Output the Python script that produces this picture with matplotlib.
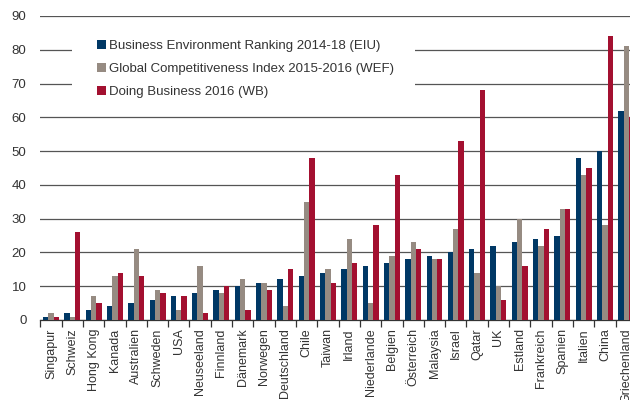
import numpy as np
import matplotlib
matplotlib.use('Agg')
import matplotlib.pyplot as plt
from matplotlib.patches import Rectangle

plt.rcParams['font.family'] = ['Liberation Sans', 'DejaVu Sans']

countries = ['Singapur', 'Schweiz', 'Hong Kong', 'Kanada', 'Australien', 'Schweden',
             'USA', 'Neuseeland', 'Finnland', 'Dänemark', 'Norwegen', 'Deutschland',
             'Chile', 'Taiwan', 'Irland', 'Niederlande', 'Belgien', 'Österreich',
             'Malaysia', 'Israel', 'Qatar', 'UK', 'Estland', 'Frankreich', 'Spanien',
             'Italien', 'China', 'Griechenland']

eiu = [1, 2, 3, 4, 5, 6, 7, 8, 9, 10, 11, 12, 13, 14, 15, 16, 17, 18, 19, 20,
       21, 22, 23, 24, 25, 48, 50, 62]
wef = [2, 1, 7, 13, 21, 9, 3, 16, 8, 12, 11, 4, 35, 15, 24, 5, 19, 23, 18, 27,
       14, 10, 30, 22, 33, 43, 28, 81]
wb = [1, 26, 5, 14, 13, 8, 7, 2, 10, 3, 9, 15, 48, 11, 17, 28, 43, 21, 18, 53,
      68, 6, 16, 27, 33, 45, 84, 60]

labels = ['Business Environment Ranking 2014-18 (EIU)',
          'Global Competitiveness Index 2015-2016 (WEF)',
          'Doing Business 2016 (WB)']
colors = ['#003865', '#968b82', '#a31030']

fig = plt.figure(figsize=(6.3, 4.0), dpi=100)
ax = fig.add_axes([0.064, 0.2, 0.947, 0.76])
ax.set_axisbelow(True)

x = np.arange(len(countries))
w = 0.25
for i, (vals, lab, col) in enumerate(zip([eiu, wef, wb], labels, colors)):
    ax.bar(x + (i - 1) * w, vals, w, color=col, label=lab, zorder=3)

ax.set_xlim(-0.5, len(countries) - 0.5)
ax.set_ylim(0, 90)
ax.set_yticks(range(0, 91, 10))
ax.yaxis.grid(True, color='#555555', linewidth=0.9)
ax.tick_params(axis='y', length=0, labelsize=9.5, labelcolor='#333333', pad=10)

ax.set_xticks(x)
ax.set_xticklabels(countries, rotation=90, fontsize=9, color='#333333')
ax.set_xticks(np.arange(-0.5, len(countries), 1), minor=True)
ax.tick_params(axis='x', which='major', length=0, pad=6)
ax.tick_params(axis='x', which='minor', length=5, width=0.9, color='#333333', direction='out')

for s in ['top', 'right', 'left']:
    ax.spines[s].set_visible(False)
ax.spines['bottom'].set_color('#333333')
ax.spines['bottom'].set_linewidth(0.9)

# white box behind legend hides the gridlines
ax.add_patch(Rectangle((72 / 630, 1 - 108 / 400), (415 - 72) / 630, 80 / 400,
                       transform=fig.transFigure, facecolor='white',
                       edgecolor='none', zorder=1))

leg = ax.legend(loc='upper left', bbox_to_anchor=(97 / 630, 1 - 40 / 400),
                bbox_transform=fig.transFigure, frameon=False, fontsize=9.5,
                handlelength=0.68, handleheight=0.68, handletextpad=0.2,
                labelspacing=0.83, borderpad=0, borderaxespad=0)
for t in leg.get_texts():
    t.set_color('#333333')

fig.savefig('out.png', dpi=100)
